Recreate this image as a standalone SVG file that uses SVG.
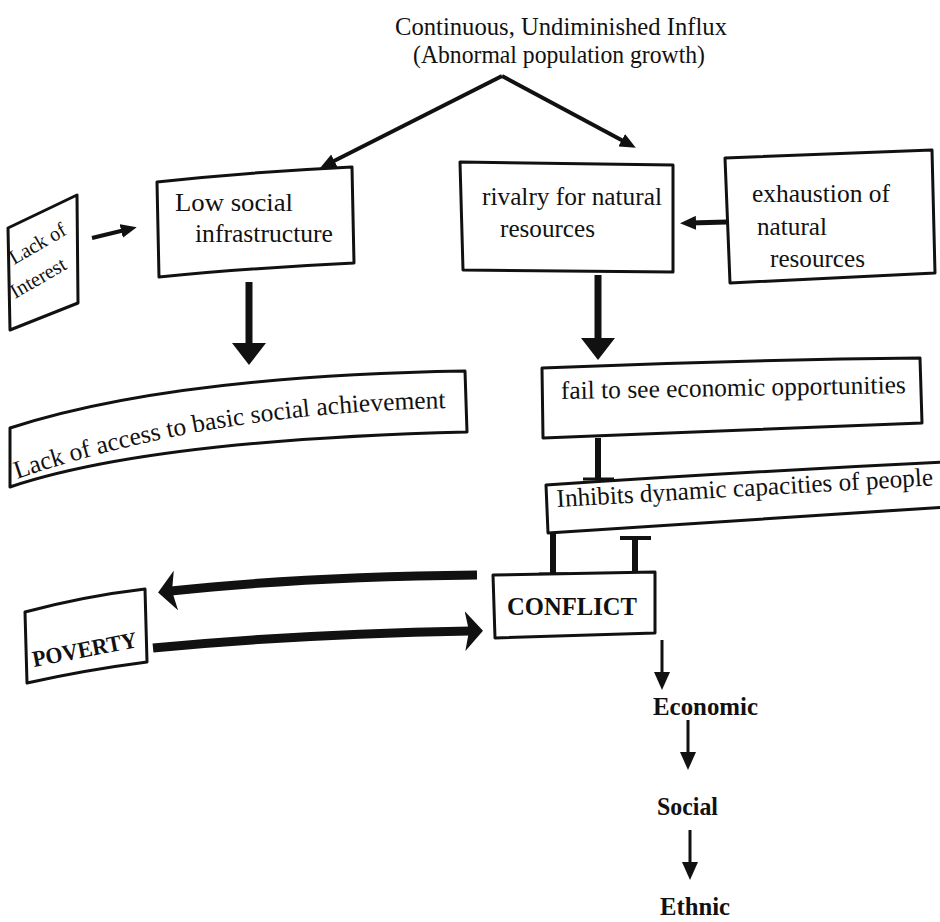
<svg xmlns="http://www.w3.org/2000/svg" width="940" height="922" viewBox="0 0 940 922">
<defs>
<style>
.t{font-family:"Liberation Serif","Times New Roman",serif;font-size:25.5px;fill:#111}
.b{font-family:"Liberation Serif","Times New Roman",serif;font-weight:bold;fill:#111}
.box{fill:#fff;stroke:#111;stroke-width:3;stroke-linejoin:round}
.ln{fill:none;stroke:#111;stroke-linecap:butt}
</style>
<marker id="m-sm" markerUnits="userSpaceOnUse" markerWidth="16" markerHeight="14" refX="6" refY="7" orient="auto"><path d="M0,0 L16,7 L0,14 z" fill="#111"/></marker>
<marker id="m-md" markerUnits="userSpaceOnUse" markerWidth="18" markerHeight="16" refX="6" refY="8" orient="auto"><path d="M0,0 L18,8 L0,16 z" fill="#111"/></marker>
<marker id="m-lg" markerUnits="userSpaceOnUse" markerWidth="22" markerHeight="34" refX="6" refY="17" orient="auto"><path d="M0,0 L22,17 L0,34 z" fill="#111"/></marker>
<marker id="m-xl" markerUnits="userSpaceOnUse" markerWidth="18" markerHeight="40" refX="5" refY="20" orient="auto"><path d="M0,0 L18,20 L0,40 L4,20 z" fill="#111"/></marker>
<path id="accessPath" d="M17,479 Q218,410 462,408"/>
</defs>
<rect width="940" height="922" fill="#fff"/>

<g id="connectors">
<line class="ln" x1="502" y1="76" x2="329" y2="163.5" stroke-width="4" marker-end="url(#m-sm)"/>
<line class="ln" x1="502" y1="76" x2="627" y2="143" stroke-width="4" marker-end="url(#m-sm)"/>
<line class="ln" x1="92" y1="238" x2="127" y2="229.5" stroke-width="4" marker-end="url(#m-sm)"/>
<line class="ln" x1="249" y1="282" x2="249" y2="349" stroke-width="7" marker-end="url(#m-lg)"/>
<line class="ln" x1="727" y1="222" x2="690" y2="223" stroke-width="5" marker-end="url(#m-sm)"/>
<line class="ln" x1="598" y1="275" x2="598" y2="344" stroke-width="7" marker-end="url(#m-lg)"/>
<line class="ln" x1="598" y1="438" x2="598" y2="479" stroke-width="6"/>
<line class="ln" x1="583" y1="479" x2="614" y2="479" stroke-width="3"/>
<line class="ln" x1="553" y1="533" x2="553" y2="574" stroke-width="6"/>
<line class="ln" x1="539" y1="574" x2="568" y2="574" stroke-width="3"/>
<line class="ln" x1="635" y1="573" x2="635" y2="538" stroke-width="6"/>
<line class="ln" x1="620" y1="538" x2="651" y2="538" stroke-width="4"/>
<path class="ln" d="M477,575 Q300,577 171,591" stroke-width="9" marker-end="url(#m-xl)"/>
<path class="ln" d="M153,648 Q300,634 470,631" stroke-width="9" marker-end="url(#m-xl)"/>
<line class="ln" x1="662" y1="640" x2="662" y2="678" stroke-width="3" marker-end="url(#m-md)"/>
<line class="ln" x1="688" y1="720" x2="688" y2="758" stroke-width="3" marker-end="url(#m-md)"/>
<line class="ln" x1="690" y1="830" x2="690" y2="868" stroke-width="3" marker-end="url(#m-md)"/>
</g>

<g id="influx">
<text class="t" x="395" y="35" textLength="332" lengthAdjust="spacingAndGlyphs">Continuous, Undiminished Influx</text>
<text class="t" x="413" y="63" textLength="292" lengthAdjust="spacingAndGlyphs">(Abnormal population growth)</text>
</g>

<g id="lack-interest">
<path class="box" d="M8,228 L77,195 L78,303 L10,330 Z"/>
<text class="t" style="font-size:20.5px" transform="translate(14,265) rotate(-30)" textLength="62" lengthAdjust="spacingAndGlyphs">Lack of</text>
<text class="t" style="font-size:20.5px" transform="translate(15,299) rotate(-30)" textLength="61" lengthAdjust="spacingAndGlyphs">Interest</text>
</g>

<g id="low-social">
<path class="box" d="M157,182 Q250,172 352,167 L354,263 Q250,268 159,277 Z"/>
<text class="t" x="175" y="211" textLength="118" lengthAdjust="spacingAndGlyphs">Low social</text>
<text class="t" x="195" y="242" textLength="138" lengthAdjust="spacingAndGlyphs">infrastructure</text>
</g>

<g id="rivalry">
<path class="box" d="M460,162 L673,165 L673,272 L463,270 Z"/>
<text class="t" x="482" y="205" textLength="180" lengthAdjust="spacingAndGlyphs">rivalry for natural</text>
<text class="t" x="500" y="237" textLength="95" lengthAdjust="spacingAndGlyphs">resources</text>
</g>

<g id="exhaustion">
<path class="box" d="M725,158 L932,150 L935,273 L730,283 Z"/>
<text class="t" x="752" y="202" textLength="138" lengthAdjust="spacingAndGlyphs">exhaustion of</text>
<text class="t" x="757" y="235" textLength="70" lengthAdjust="spacingAndGlyphs">natural</text>
<text class="t" x="770" y="267" textLength="95" lengthAdjust="spacingAndGlyphs">resources</text>
</g>

<g id="lack-access">
<path class="box" d="M10,428 Q170,376 465,371 L467,432 Q150,440 10,487 Z"/>
<text class="t" style="font-size:25.5px"><textPath href="#accessPath">Lack of access to basic social achievement</textPath></text>
</g>

<g id="fail">
<path class="box" d="M542,368 Q730,360 920,358 L922,423 Q730,430 543,438 Z"/>
<text class="t" transform="translate(561,399) rotate(-1)" textLength="345" lengthAdjust="spacingAndGlyphs">fail to see economic opportunities</text>
</g>

<g id="inhibits">
<path class="box" d="M946,462 Q740,472 546,485 L548,533 Q740,520 946,507"/>
<text class="t" transform="translate(557,507) rotate(-3.3)" textLength="377" lengthAdjust="spacingAndGlyphs">Inhibits dynamic capacities of people</text>
</g>

<g id="conflict">
<path class="box" d="M493,575 L655,572 L655,633 L495,638 Z"/>
<text class="b" x="507" y="615" style="font-size:26px" textLength="130" lengthAdjust="spacingAndGlyphs">CONFLICT</text>
</g>

<g id="poverty">
<path class="box" d="M25,612 Q85,596 145,589 L147,662 Q85,670 27,683 Z"/>
<text class="b" style="font-size:23px" text-anchor="middle" transform="translate(86,657) rotate(-11)" textLength="106" lengthAdjust="spacingAndGlyphs">POVERTY</text>
</g>

<g id="economic"><text class="b" x="653" y="715" style="font-size:25px" textLength="105" lengthAdjust="spacingAndGlyphs">Economic</text></g>
<g id="social"><text class="b" x="657" y="815" style="font-size:25px" textLength="61" lengthAdjust="spacingAndGlyphs">Social</text></g>
<g id="ethnic"><text class="b" x="660" y="915" style="font-size:25px" textLength="70" lengthAdjust="spacingAndGlyphs">Ethnic</text></g>
</svg>
